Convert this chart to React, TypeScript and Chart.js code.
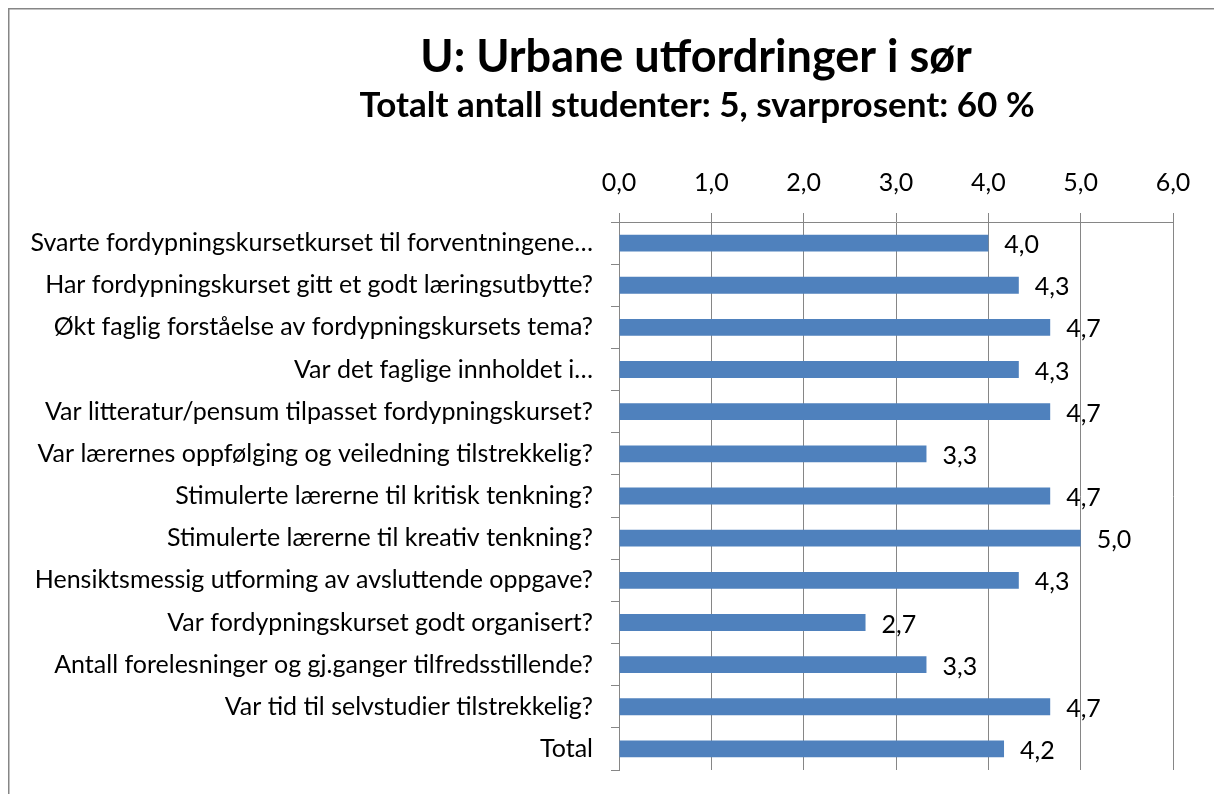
import React, { useEffect, useRef } from "react";
import { Chart, registerables } from "chart.js";

Chart.register(...registerables);

const titleText = "U: Urbane utfordringer i sør";
const subtitleText = "Totalt antall studenter: 5, svarprosent: 60 %";

const categories: string[] = [
  "Svarte fordypningskursetkurset til forventningene…",
  "Har fordypningskurset gitt et godt læringsutbytte?",
  "Økt faglig forståelse av fordypningskursets tema?",
  "Var det faglige innholdet i…",
  "Var litteratur/pensum tilpasset fordypningskurset?",
  "Var lærernes oppfølging og veiledning tilstrekkelig?",
  "Stimulerte lærerne til kritisk tenkning?",
  "Stimulerte lærerne til kreativ tenkning?",
  "Hensiktsmessig utforming av avsluttende oppgave?",
  "Var fordypningskurset godt organisert?",
  "Antall forelesninger og gj.ganger tilfredsstillende?",
  "Var tid til selvstudier tilstrekkelig?",
  "Total",
];

const values: number[] = [4.0, 4.33, 4.67, 4.33, 4.67, 3.33, 4.67, 5.0, 4.33, 2.67, 3.33, 4.67, 4.17];

const axisMin = 0;
const axisMax = 6;
const axisStep = 1;

const fmt = (v: number) => v.toFixed(1).replace(".", ",");

const FONT = "Lato";
const GRAY = "#868686";
const BAR = "#4F81BD";

export default function App() {
  const ref = useRef<HTMLCanvasElement | null>(null);

  useEffect(() => {
    if (!ref.current) return;

    const frameAndTitles = {
      id: "frameAndTitles",
      afterDraw(chart: any) {
        const ctx = chart.ctx;
        ctx.save();
        ctx.strokeStyle = GRAY;
        ctx.lineWidth = 1.5;
        ctx.beginPath();
        ctx.moveTo(0.75, chart.height);
        ctx.lineTo(0.75, 0.75);
        ctx.lineTo(chart.width, 0.75);
        ctx.stroke();

        ctx.fillStyle = "#000";
        ctx.textAlign = "center";
        ctx.textBaseline = "alphabetic";
        ctx.font = `bold 45px ${FONT}`;
        ctx.fillText(titleText, 688, 64);
        ctx.font = `bold 35px ${FONT}`;
        ctx.fillText(subtitleText, 689, 109);
        ctx.restore();
      },
    };

    const dataLabels = {
      id: "dataLabels",
      afterDatasetsDraw(chart: any) {
        const ctx = chart.ctx;
        const meta = chart.getDatasetMeta(0);
        ctx.save();
        ctx.fillStyle = "#000";
        ctx.font = `25px ${FONT}`;
        ctx.textAlign = "left";
        ctx.textBaseline = "middle";
        meta.data.forEach((el: any, i: number) => {
          ctx.fillText(fmt(values[i]), el.x + 16, el.y + 2);
        });
        ctx.restore();
      },
    };

    const chart = new Chart(ref.current, {
      type: "bar",
      data: {
        labels: categories,
        datasets: [
          {
            data: values,
            backgroundColor: BAR,
            borderWidth: 0,
            barPercentage: 0.4,
            categoryPercentage: 1,
          },
        ],
      },
      options: {
        indexAxis: "y",
        responsive: false,
        animation: false,
        layout: { padding: { left: 0, right: 41, top: 0, bottom: 24 } },
        plugins: {
          legend: { display: false },
          title: { display: false },
          tooltip: { enabled: false },
        },
        scales: {
          x: {
            type: "linear",
            position: "top",
            min: axisMin,
            max: axisMax,
            ticks: {
              stepSize: axisStep,
              callback: (v: any) => fmt(Number(v)),
              color: "#000",
              font: { family: FONT, size: 25 },
              padding: 15,
              maxRotation: 0,
            },
            grid: { color: GRAY, lineWidth: 1, tickLength: 9, drawTicks: true },
            border: { display: true, color: GRAY, width: 1 },
            afterFit: (scale: any) => {
              scale.height = 214;
            },
          },
          y: {
            type: "category",
            ticks: {
              color: "#000",
              font: { family: FONT, size: 25 },
              padding: 18,
              autoSkip: false,
            },
            grid: { drawOnChartArea: false, color: GRAY, tickLength: 8, offset: true },
            border: { display: true, color: GRAY, width: 1 },
            afterFit: (scale: any) => {
              scale.width = 611;
              scale.paddingTop = 0;
              scale.paddingBottom = 0;
            },
          },
        },
      },
      plugins: [frameAndTitles, dataLabels],
    } as any);

    return () => chart.destroy();
  }, []);

  return (
    <div style={{ position: "fixed", left: 8, top: 8, width: 1206, height: 786 }}>
      <canvas ref={ref} width={1206} height={786} style={{ display: "block" }} />
    </div>
  );
}
